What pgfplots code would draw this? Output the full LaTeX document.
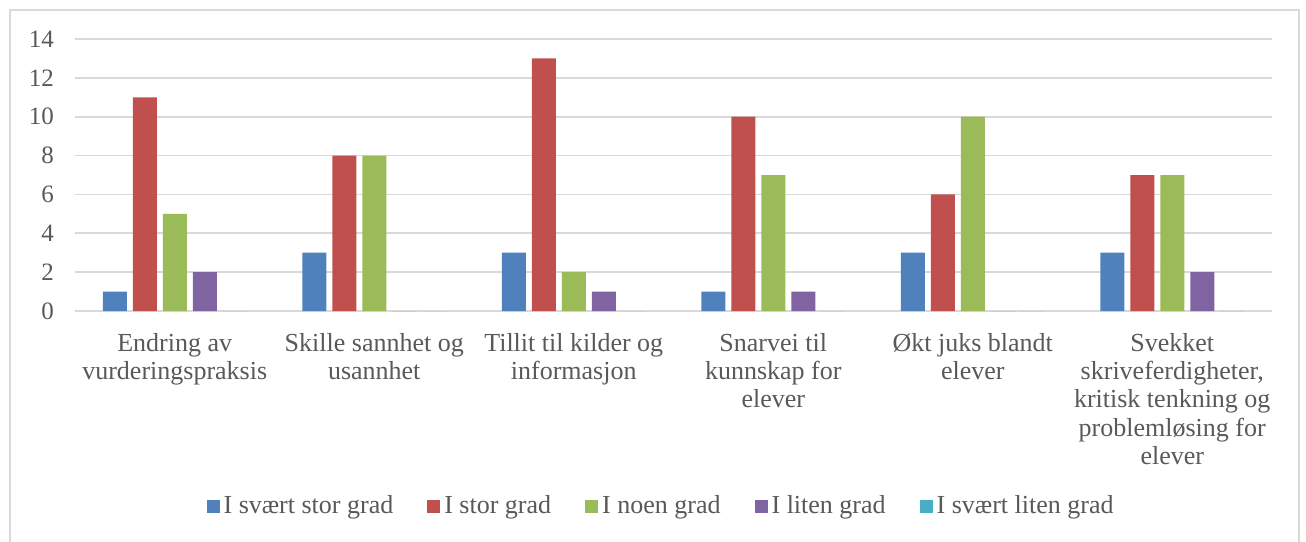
\documentclass[border=0pt]{standalone}
\usepackage{pgfplots}
\pgfplotsset{compat=1.18}
\usepackage{fontspec}
\setmainfont{Liberation Serif}
\definecolor{cA}{HTML}{4F81BD}
\definecolor{cB}{HTML}{C0504D}
\definecolor{cC}{HTML}{9BBB59}
\definecolor{cD}{HTML}{8064A2}
\definecolor{cE}{HTML}{4BACC6}
\definecolor{txt}{HTML}{595959}
\definecolor{gridc}{HTML}{D9D9D9}
\begin{document}
\begin{tikzpicture}
\useasboundingbox (0,0) rectangle (653pt,270.5pt);
\draw[gridc, line width=0.8pt] (5pt,-5pt) -- (5pt,265.5pt) -- (649.5pt,265.5pt) -- (649.5pt,-5pt);
\begin{axis}[
  at={(37.5pt,115pt)}, anchor=south west,
  width=598.5pt, height=136pt, scale only axis,
  ybar=3pt, bar width=12pt,
  xmin=-0.5, xmax=5.5, ymin=0, ymax=14,
  ytick={0,2,...,14},
  xtick={0,1,2,3,4,5},
  xticklabels={{Endring av\\vurderingspraksis},{Skille sannhet og\\usannhet},{Tillit til kilder og\\informasjon},{Snarvei til\\kunnskap for\\elever},{Økt juks blandt\\elever},{Svekket\\skriveferdigheter,\\kritisk tenkning og\\problemløsing for\\elever}},
  xticklabel style={align=center, font=\fontsize{13}{14.2}\selectfont, text=txt, yshift=-7.5pt},
  yticklabel style={font=\fontsize{12.5}{14}\selectfont, text=txt, xshift=-7pt},
  /pgf/number format/assume math mode=true,
  axis line style={draw=none},
  major tick length=0pt,
  ymajorgrids, grid style={gridc, line width=0.8pt},
  legend columns=5,
  legend style={draw=none, at={(0.4905,-0.717)}, anchor=center,
    font=\fontsize{13}{14.5}\selectfont, text=txt,
    /tikz/every even column/.append style={column sep=15pt}},
  legend image code/.code={\fill[#1] (0pt,-3.25pt) rectangle (6.5pt,3.25pt);},
]
\addplot[fill=cA, draw=none] coordinates {(0,1) (1,3) (2,3) (3,1) (4,3) (5,3)};
\addplot[fill=cB, draw=none] coordinates {(0,11) (1,8) (2,13) (3,10) (4,6) (5,7)};
\addplot[fill=cC, draw=none] coordinates {(0,5) (1,8) (2,2) (3,7) (4,10) (5,7)};
\addplot[fill=cD, draw=none] coordinates {(0,2) (1,0) (2,1) (3,1) (4,0) (5,2)};
\addplot[fill=cE, draw=none] coordinates {(0,0) (1,0) (2,0) (3,0) (4,0) (5,0)};
\legend{I svært stor grad, I stor grad, I noen grad, I liten grad, I svært liten grad}
\end{axis}
\end{tikzpicture}
\end{document}
